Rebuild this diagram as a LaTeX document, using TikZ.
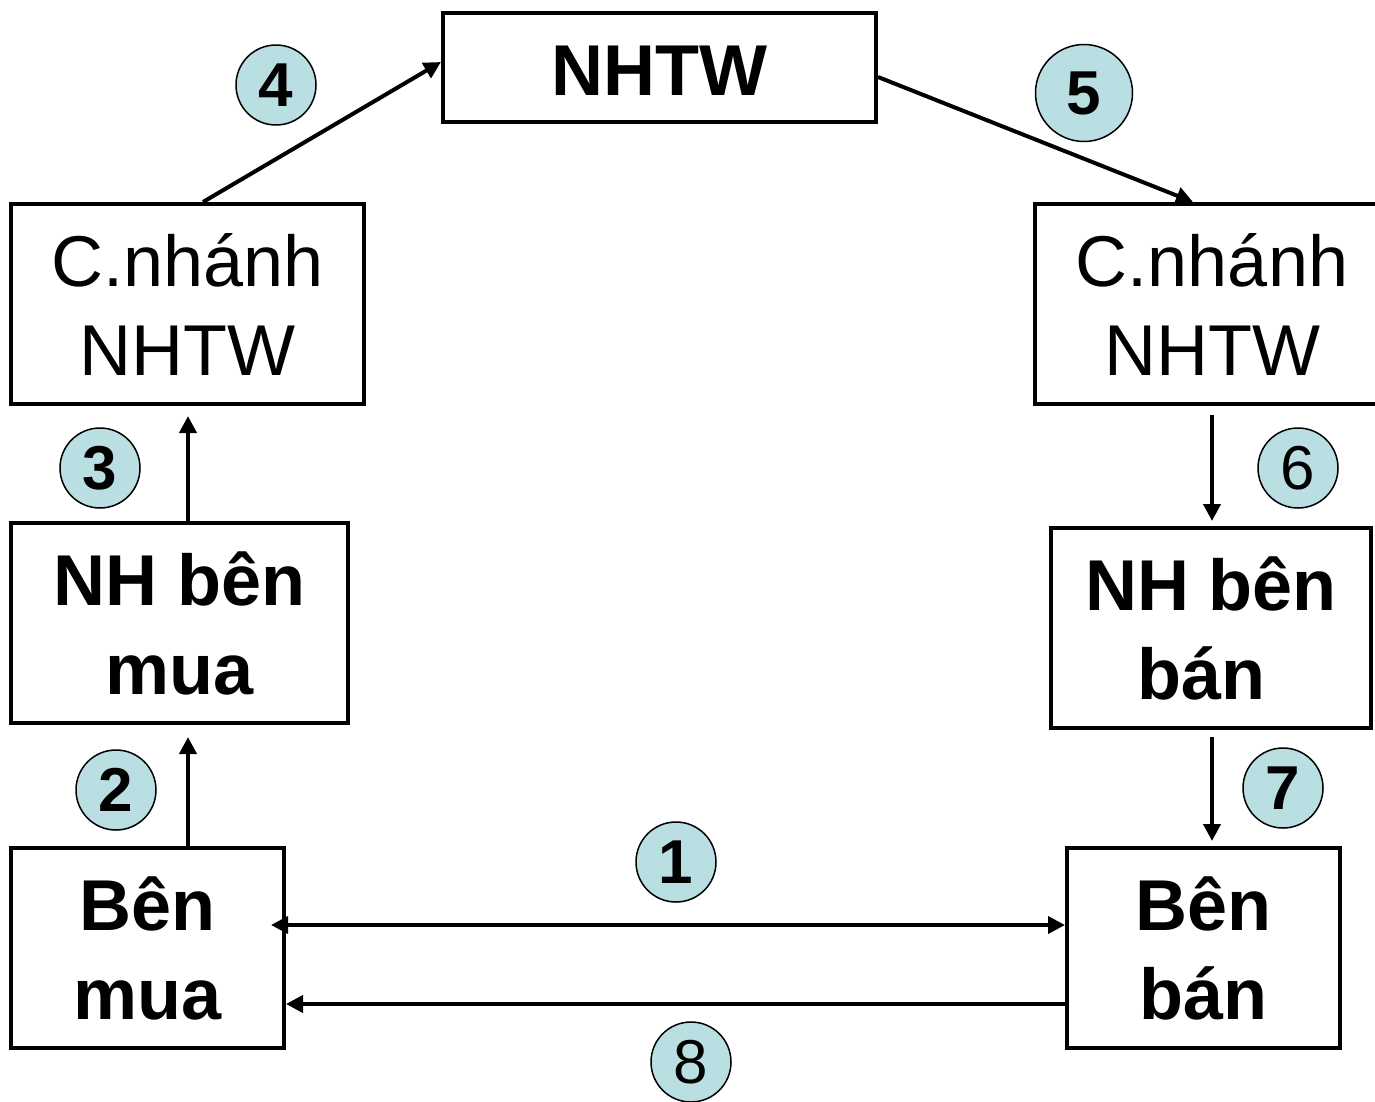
\documentclass[tikz,border=0pt]{standalone}
\usepackage{fontspec}
\setmainfont{Liberation Sans}
\usetikzlibrary{arrows.meta}
\definecolor{badge}{RGB}{185,223,227}
\begin{document}
\begin{tikzpicture}[x=1pt,y=-1pt,
  box/.style={draw,line width=4pt,inner sep=0pt,align=center,
    font=\fontsize{72}{89}\selectfont},
  boldbox/.style={box,font=\fontsize{72}{89}\selectfont\bfseries},
  badgebold/.style={circle,draw,line width=1.5pt,fill=badge,inner sep=0pt,
    minimum size=80pt,font=\fontsize{62}{62}\selectfont\bfseries},
  badgeplain/.style={badgebold,font=\fontsize{62}{62}\selectfont},
  arr/.style={line width=4pt,-{Triangle[length=17pt,width=17pt]}},
  dblarr/.style={line width=4pt,{Triangle[length=17pt,width=17pt]}-{Triangle[length=17pt,width=17pt]}}]
\useasboundingbox (0,0) rectangle (1375,1101);

% boxes
\node[boldbox,minimum width=433pt,minimum height=109pt,text height=55pt,text depth=0pt] (nhtw) at (659.5,67.5) {NHTW};
\node[box,minimum width=353pt,minimum height=200pt] (cnL) at (187.5,304) {C.nhánh\\NHTW};
\node[box,minimum width=354pt,minimum height=200pt] (cnR) at (1212,304) {C.nhánh\\NHTW};
\node[boldbox,minimum width=337pt,minimum height=200pt] (nhL) at (179.5,623) {NH bên\\mua};
\node[boldbox,minimum width=320pt,minimum height=200pt] (nhR) at (1211,628) {NH bên\\bán\rule{20pt}{0pt}};
\node[boldbox,minimum width=273pt,minimum height=200pt] (benMua) at (147.5,948) {Bên\\mua};
\node[boldbox,minimum width=273pt,minimum height=200pt] (benBan) at (1203.5,948) {Bên\\bán};

% step badges
\node[badgebold] (b1) at (676,862) {1};
\node[badgebold] (b2) at (116,790) {2};
\node[badgebold] (b3) at (100,468) {3};
\node[badgebold] (b4) at (276,85) {4};
\node[badgebold,minimum size=97pt] (b5) at (1084,93) {5};
\node[badgeplain] (b6) at (1298,468) {6};
\node[badgebold] (b7) at (1283,788) {7};
\node[badgeplain] (b8) at (691,1062) {8};

% flows
\draw[dblarr,shorten <=-15pt] ([yshift=23pt]benMua.east) -- ([yshift=23pt]benBan.west);
\draw[arr,shorten >=12pt] ([xshift=40.5pt]benMua.north) -- ([xshift=8.5pt]nhL.south);
\draw[arr,shorten >=10pt] ([xshift=8.5pt]nhL.north) -- ([xshift=0.5pt]cnL.south);
\draw[arr] ([xshift=15.5pt]cnL.north) -- ([yshift=5.5pt]nhtw.west);
\draw[arr] ([yshift=-9.5pt]nhtw.east) -- ([xshift=-19pt]cnR.north);
\draw[arr,shorten <=9pt,shorten >=5pt] (cnR.south) -- ([xshift=1pt]nhR.north);
\draw[arr,shorten <=7pt,shorten >=5pt] ([xshift=1pt]nhR.south) -- ([xshift=8.5pt]benBan.north);
\draw[arr] ([yshift=-56pt]benBan.west) -- ([yshift=-56pt]benMua.east);
\end{tikzpicture}
\end{document}
